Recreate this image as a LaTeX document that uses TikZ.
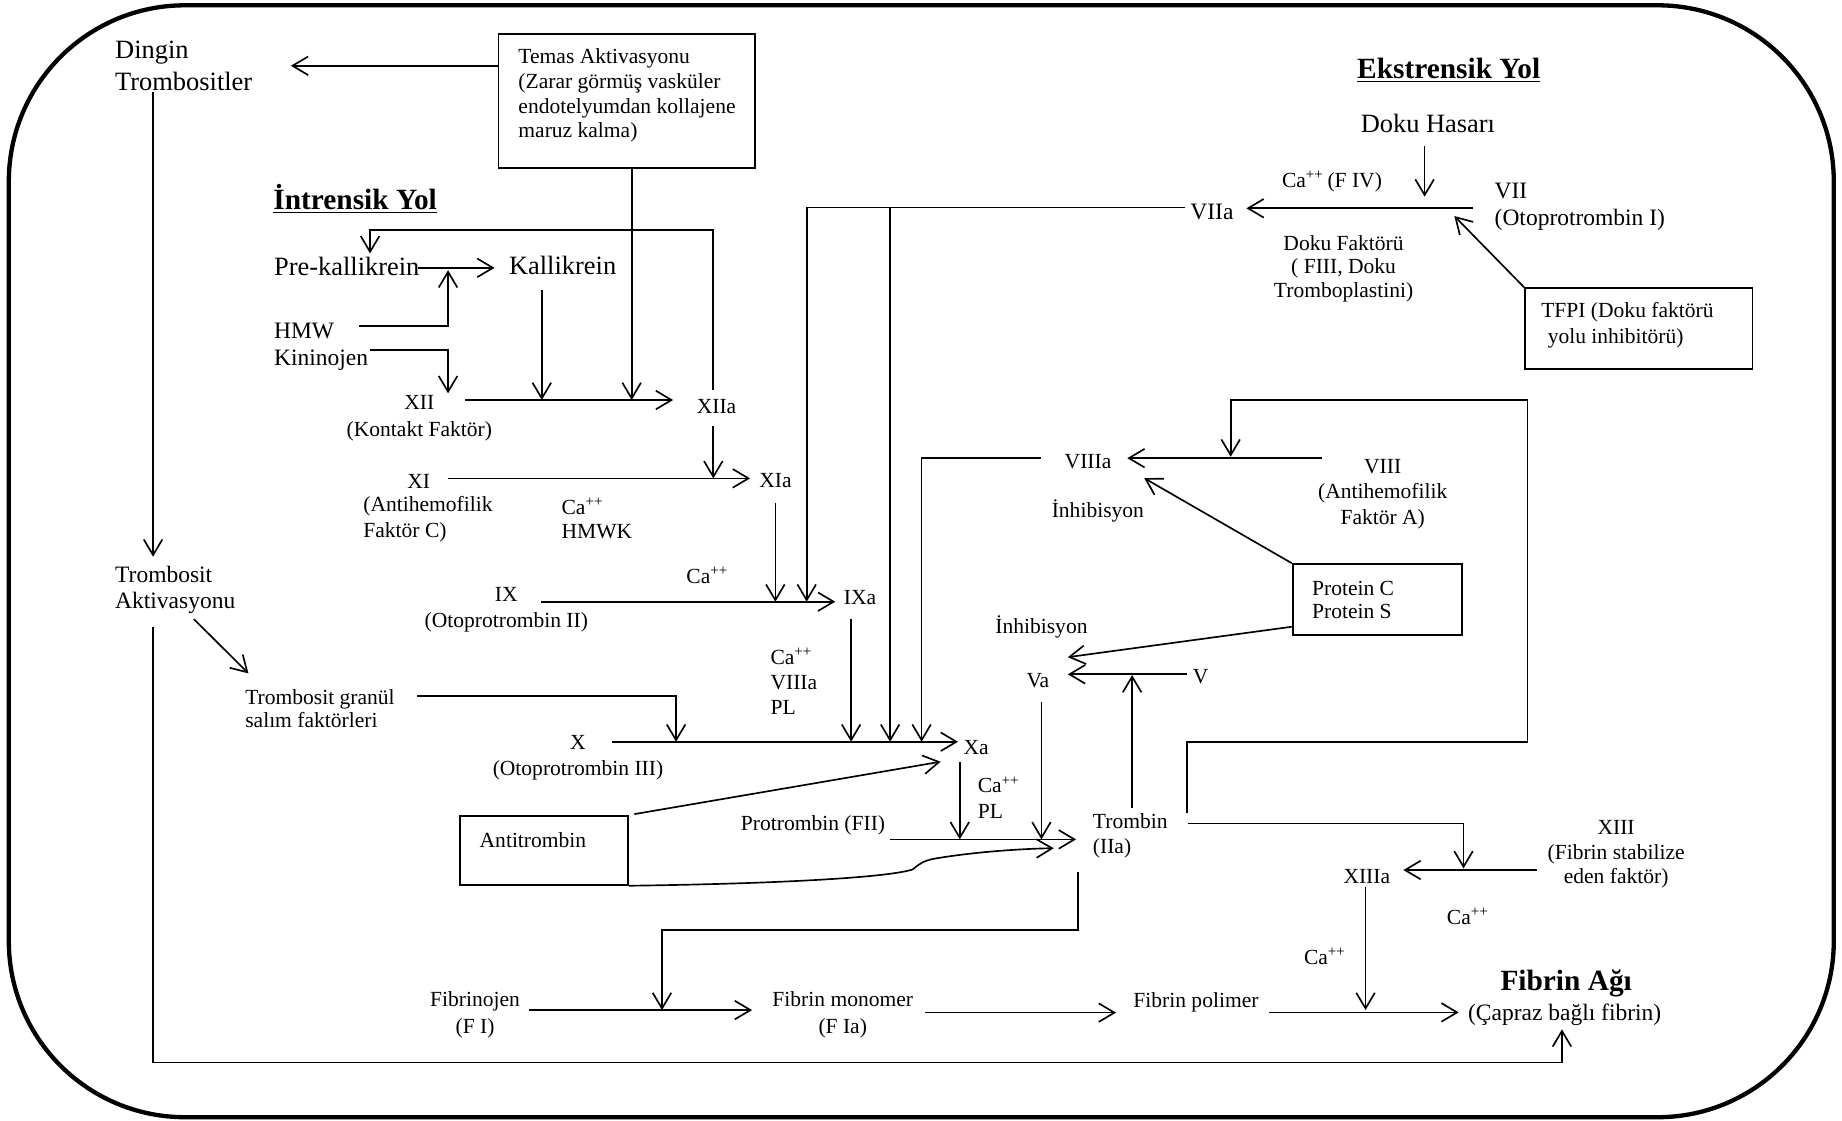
\documentclass[tikz,border=0pt]{standalone}
\usepackage{fontspec}
\setmainfont{Liberation Serif}
\usetikzlibrary{arrows.meta}
\newcommand{\fz}[2]{\fontsize{#1}{#2}\selectfont}
\newcommand{\Ca}{Ca\textsuperscript{++}}
\begin{document}
\begin{tikzpicture}[x=0.6pt,y=-0.6pt,
  txt/.style={inner sep=0pt, font=\fz{11}{12.8}},
  boxnode/.style={draw, line width=0.9pt, inner sep=0pt, anchor=north west},
  ln/.style={line width=0.85pt},
  conn/.style={line width=0.85pt, line join=miter, -{Straight Barb[length=8pt,width=9.5pt]}},
  frame/.style={line width=2.2pt, rounded corners=90pt}
]
\useasboundingbox (0,0) rectangle (1568,954);
\draw[frame] (7.5,4.5) rectangle (1561,951);

% ---------- boxes ----------
\node[boxnode, minimum width=131.1pt, minimum height=68.2pt] (temas) at (423.5,28.4) {};
\node[boxnode, minimum width=116.2pt, minimum height=41.3pt] (tfpi) at (1297.4,244.6) {};
\node[boxnode, minimum width=86.5pt, minimum height=36.4pt] (protein) at (1099.6,479.4) {};
\node[boxnode, minimum width=85.9pt, minimum height=35.2pt] (anti) at (390.9,693.8) {};

% ---------- texts ----------
\node[txt, anchor=west, align=left, font=\fz{13.5}{16.2}] (dingin) at (97.7,56) {Dingin\\Trombositler};
\node[txt, anchor=west, align=left, font=\fz{11}{12.7}] (temasT) at (441,81.3) {Temas Aktivasyonu\\(Zarar görmüş vasküler\\endotelyumdan kollajene\\maruz kalma)};
\node[txt, anchor=west, font=\fz{15}{17}\bfseries] (intr) at (232.4,169) {\underline{İntrensik Yol}};
\node[txt, anchor=west, font=\fz{15}{17}\bfseries] (ekst) at (1155,60) {\underline{Ekstrensik Yol}};
\node[txt, anchor=west, font=\fz{13.5}{16.2}] (prek) at (233,227) {Pre-kallikrein};
\node[txt, anchor=west, font=\fz{13.5}{16.2}] (kall) at (433,226) {Kallikrein};
\node[txt, anchor=west, align=left, font=\fz{12}{13.7}] (hmw) at (233,295) {HMW\\Kininojen};
\node[txt, align=center, font=\fz{11}{13.6}] (xii) at (357,356) {XII\\(Kontakt Faktör)};
\node[txt, anchor=west] (xiia) at (592.8,346) {XIIa};
\node[txt] (xi) at (356.5,410) {XI};
\node[txt, anchor=west, align=left, font=\fz{11}{13.1}] (xiT) at (309,441.7) {(Antihemofilik\\Faktör C)};
\node[txt, anchor=west, align=left, font=\fz{11}{12.3}] (caH) at (477.7,441) {\Ca\\HMWK};
\node[txt, anchor=west] (xia) at (646,409) {XIa};
\node[txt, align=center, font=\fz{11}{13.2}] (ix) at (431,519) {IX\\(Otoprotrombin II)};
\node[txt, anchor=west] (caIX) at (584,489.5) {\Ca};
\node[txt, anchor=west] (ixa) at (718,509) {IXa};
\node[txt, anchor=west, align=left, font=\fz{11}{12.8}] (caV) at (655.6,580.2) {\Ca\\VIIIa\\PL};
\node[txt, align=center, font=\fz{11}{12.8}] (x) at (492,645) {X\\(Otoprotrombin III)};
\node[txt, anchor=west] (xa) at (820,636) {Xa};
\node[txt, anchor=west, align=left, font=\fz{12}{13.6}] (trA) at (97.7,502.2) {Trombosit\\Aktivasyonu};
\node[txt, anchor=west, align=left, font=\fz{11}{12}] (trG) at (208.5,603) {Trombosit granül\\salım faktörleri};
\node[txt, anchor=west] (antiT) at (408,715) {Antitrombin};
\node[txt, anchor=west] (protr) at (630.4,702.3) {Protrombin (FII)};
\node[txt, anchor=west, align=left, font=\fz{11}{13.2}] (caPL) at (832,679) {\Ca\\PL};
\node[txt, anchor=west, align=left, font=\fz{11}{12.6}] (trombin) at (930,711.5) {Trombin\\(IIa)};
\node[txt, anchor=west] (va) at (873.5,579) {Va};
\node[txt, anchor=west] (v) at (1015,576) {V};
\node[txt, anchor=west] (inh1) at (895,434.7) {İnhibisyon};
\node[txt, anchor=west] (inh2) at (847,533.5) {İnhibisyon};
\node[txt, anchor=west] (viiia) at (906,393) {VIIIa};
\node[txt, align=center, font=\fz{11}{13}] (viii) at (1177,420.5) {VIII\\(Antihemofilik\\Faktör A)};
\node[txt, anchor=west, align=left, font=\fz{11}{12}] (protT) at (1116.6,510.7) {Protein C\\Protein S};
\node[txt, anchor=west, font=\fz{13.5}{16.2}] (dokuH) at (1158,105) {Doku Hasarı};
\node[txt, anchor=west] (caF) at (1091,154.7) {\Ca\,(F IV)};
\node[txt, anchor=west, align=left, font=\fz{12}{13.6}] (vii) at (1272,176) {VII\\(Otoprotrombin I)};
\node[txt, anchor=west, font=\fz{12}{13.6}] (viia) at (1013,180.2) {VIIa};
\node[txt, align=center, font=\fz{11}{12.1}] (dokuF) at (1143.7,228.7) {Doku Faktörü\\( FIII, Doku\\Tromboplastini)};
\node[txt, anchor=west, align=left, font=\fz{11}{13.5}] (tfpiT) at (1311.7,277) {TFPI (Doku faktörü\\\hspace*{0.3em}yolu inhibitörü)};
\node[txt, align=center, font=\fz{11}{12.6}] (xiii) at (1375.7,727.4) {XIII\\(Fibrin stabilize\\eden faktör)};
\node[txt, anchor=west] (xiiia) at (1143.3,746.3) {XIIIa};
\node[txt, anchor=west] (caX1) at (1231.4,780.3) {\Ca};
\node[txt, anchor=west] (caX2) at (1109.7,813.8) {\Ca};
\node[txt, align=center, font=\fz{11}{13.6}] (fibrinojen) at (404.4,864) {Fibrinojen\\(F I)};
\node[txt, align=center, font=\fz{11}{13.6}] (fmono) at (717.4,864) {Fibrin monomer\\(F Ia)};
\node[txt, anchor=west] (fpoli) at (964.5,853.6) {Fibrin polimer};
\node[txt, font=\fz{15}{17}\bfseries] (fagi) at (1333.2,837) {Fibrin Ağı};
\node[txt, anchor=west, font=\fz{12}{13.6}] (capraz) at (1249.4,864) {(Çapraz bağlı fibrin)};

% ---------- named coordinates ----------
\coordinate (dingTip) at (247.6,56);
\coordinate (dingS) at (130.3,78);
\coordinate (trATip) at (130.3,473.9);
\coordinate (trAS) at (130.3,533.5);
\coordinate (agiTip) at (1329.6,876.2);
\coordinate (trAdiag) at (165,527);
\coordinate (trGTip) at (211.5,573.2);
\coordinate (trGE) at (355.2,592.5);
\coordinate (xE) at (521,631.4);
\coordinate (xaTip) at (815.5,631.4);
\coordinate (ixaS) at (724.5,527);
\coordinate (viiaW) at (1009,176.5);
\coordinate (ixLineL) at (686.7,512.2);
\coordinate (viiaB) at (757.7,176.5);
\coordinate (viiE) at (1254,177.3);
\coordinate (viiaTip) at (1061,177.3);
\coordinate (dokuS) at (1212.7,124.3);
\coordinate (dokuTip) at (1212.7,167.4);
\coordinate (tfpiTip) at (1238,183.9);
\coordinate (prekE) at (356,228);
\coordinate (kallTip) at (421,228);
\coordinate (hmwE) at (306,277.5);
\coordinate (hmwTip) at (381.4,230);
\coordinate (kinE) at (315,298);
\coordinate (kinTip) at (381.4,334.8);
\coordinate (xiiE) at (396,340.5);
\coordinate (xiiaTip) at (573,340.5);
\coordinate (kallS) at (461.2,246.9);
\coordinate (temasS) at (537.7,142);
\coordinate (xiiaN) at (607,332);
\coordinate (prekTip) at (315,215.7);
\coordinate (xiiaS) at (607.2,363);
\coordinate (xiE) at (381.4,407.2);
\coordinate (xiaTip) at (638.5,407.2);
\coordinate (xiaS) at (660,428);
\coordinate (ixE) at (460.4,512.2);
\coordinate (ixaTip) at (711,512.2);
\coordinate (viiiE) at (1125,390);
\coordinate (viiiaTip) at (959.6,390);
\coordinate (trFb) at (1010.6,692);
\coordinate (viiiFbTip) at (1047.6,388.8);
\coordinate (viiiaW) at (886,390);
\coordinate (inhTip1) at (974,407);
\coordinate (protW) at (1099.6,533.5);
\coordinate (inhTip2) at (909,559.4);
\coordinate (vW) at (1010.6,574);
\coordinate (vaTip) at (909,574);
\coordinate (trN) at (963.7,688);
\coordinate (vaTip2) at (963.7,574.6);
\coordinate (vaS) at (886.5,597.6);
\coordinate (xaS) at (817,648.6);
\coordinate (protrE) at (757.5,714.5);
\coordinate (trTip) at (916,714.5);
\coordinate (antiNE) at (540,693);
\coordinate (xaTip2) at (800.7,648.4);
\coordinate (trTip2) at (897,722);
\coordinate (trE) at (1011,700.9);
\coordinate (xiiiaTip) at (1245.8,739.2);
\coordinate (xiiiW) at (1308,740.6);
\coordinate (xiiiaTip2) at (1194.6,740.6);
\coordinate (xiiiaS) at (1162.4,754.8);
\coordinate (agiTip2) at (1162.4,861.8);
\coordinate (trS) at (917.5,742);
\coordinate (fibTip) at (563.5,859.8);
\coordinate (fibE) at (450.6,859.8);
\coordinate (monoTip) at (640.2,859.8);
\coordinate (monoE) at (787.5,862);
\coordinate (poliTip) at (950,862);
\coordinate (poliE) at (1080.3,861.8);
\coordinate (agiTip3) at (1241.7,861.8);

% ---------- connectors ----------
\draw[conn] (temas.west |- dingTip) -- (dingTip);
\draw[conn] (dingS) -- (trATip);
\draw[conn] (trAS) -- (130.3,904.5) -| (agiTip);
\draw[conn] (trAdiag) -- (trGTip);
\draw[conn] (trGE) -| (575.5,631.4);
\draw[conn] (xE) -- (xaTip);
\draw[conn] (ixaS) -- (ixaS |- xaTip);
\draw[conn] (viiaW) -| (ixLineL);
\draw[conn] (viiaB) -- (viiaB |- xaTip);
\draw[conn] (viiE) -- (viiaTip);
\draw[conn] (dokuS) -- (dokuTip);
\draw[conn] (tfpi.north west) -- (tfpiTip);
\draw[conn] (prekE) -- (kallTip);
\draw[conn] (hmwE) -| (hmwTip);
\draw[conn] (kinE) -| (kinTip);
\draw[conn] (xiiE) -- (xiiaTip);
\draw[conn] (kallS) -- (kallS |- xiiaTip);
\draw[conn] (temasS) -- (temasS |- xiiaTip);
\draw[conn] (xiiaN) -- (607,195.8) -| (prekTip);
\draw[conn] (xiiaS) -- (xiiaS |- xiaTip);
\draw[conn] (xiE) -- (xiaTip);
\draw[conn] (xiaS) -- (xiaS |- ixaTip);
\draw[conn] (ixE) -- (ixaTip);
\draw[conn] (viiiE) -- (viiiaTip);
\draw[conn] (trFb) -- (1010.6,631.4) -- (1300.4,631.4) -- (1300.4,340.5) -| (viiiFbTip);
\draw[conn] (viiiaW) -- (784.5,390) -- (784.5,631.4);
\draw[conn] (protein.north west) -- (inhTip1);
\draw[conn] (protW) -- (inhTip2);
\draw[conn] (vW) -- (vaTip);
\draw[conn] (trN) -- (vaTip2);
\draw[conn] (vaS) -- (vaS |- trTip);
\draw[conn] (xaS) -- (xaS |- trTip);
\draw[conn] (protrE) -- (trTip);
\draw[conn] (antiNE) -- (xaTip2);
\draw[conn] (anti.south east) .. controls (680,752) and (760,746) .. (777,740)
   .. controls (782,736) and (785,733) .. (795,731)
   .. controls (830,725) and (870,722.5) .. (trTip2);
\draw[conn] (trE) -| (xiiiaTip);
\draw[conn] (xiiiW) -- (xiiiaTip2);
\draw[conn] (xiiiaS) -- (xiiiaS |- fibTip);
\draw[conn] (trS) -- (917.5,791.7) -| (fibTip);
\draw[conn] (fibE) -- (monoTip);
\draw[conn] (monoE) -- (poliTip);
\draw[conn] (poliE) -- (agiTip3);
\end{tikzpicture}
\end{document}
